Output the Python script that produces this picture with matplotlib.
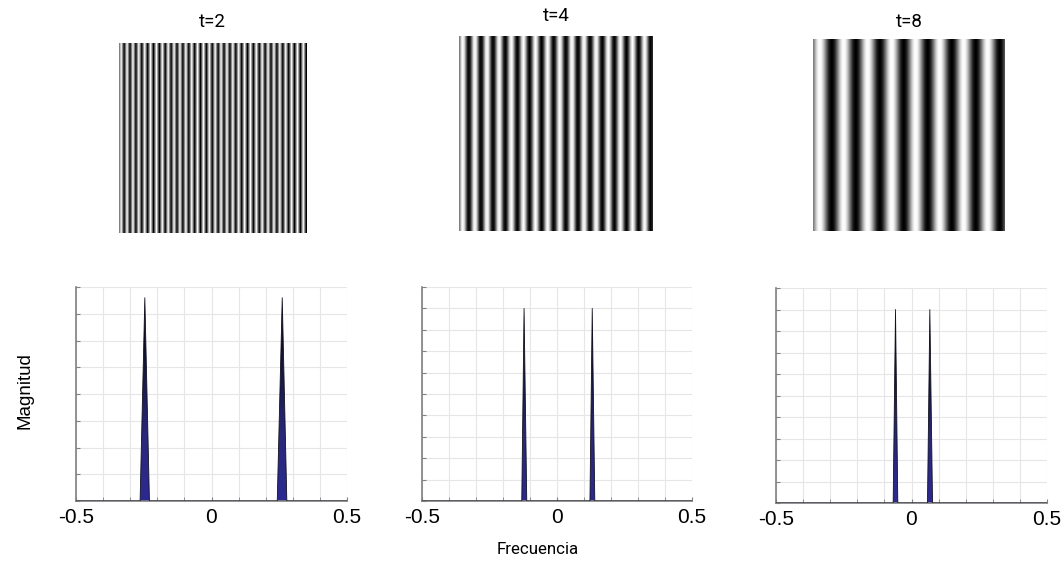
import numpy as np
import matplotlib
matplotlib.use("Agg")
import matplotlib.pyplot as plt
from matplotlib.colors import LinearSegmentedColormap

plt.rcParams['font.family'] = ['Roboto', 'DejaVu Sans']

# Half-periods of the gratings
t_values = [2, 4, 8]
titles = ['t=2', 't=4', 't=8']
img_size = 128

# Magnitude spectra (normalised frequency, magnitude)
freq_t2 = [-0.5, -0.2635, -0.246, -0.229, 0.2426, 0.261, 0.278, 0.5]
mag_t2 = [0, 0, 0.95, 0, 0, 0.95, 0, 0]
freq_t4 = [-0.5, -0.1305, -0.122, -0.112, 0.122, 0.1305, 0.140, 0.5]
mag_t4 = [0, 0, 0.90, 0, 0, 0.90, 0, 0]
freq_t8 = [-0.5, -0.0677, -0.059, -0.0505, 0.059, 0.0677, 0.0776, 0.5]
mag_t8 = [0, 0, 0.90, 0, 0, 0.90, 0, 0]
spectra = [(freq_t2, mag_t2), (freq_t4, mag_t4), (freq_t8, mag_t8)]
y_divisions = [8, 10, 10]

W, H = 1063, 564
fig = plt.figure(figsize=(W / 100, H / 100), dpi=100)


def box(l, t, r, b):
    return [l / W, 1 - b / H, (r - l) / W, (b - t) / H]


img_boxes = [(119, 43, 306, 233), (459, 36, 653, 231), (813, 39, 1005, 231)]
title_y = [22, 16, 22]
spec_boxes = [(76, 287, 347, 501), (422, 287, 692, 501), (776, 288, 1047, 503)]

cmap = LinearSegmentedColormap.from_list('peak', ['#2c2a92', '#2a2878', '#15153a', '#000000'])

for i, t in enumerate(t_values):
    # grating image
    ax = fig.add_axes(box(*img_boxes[i]))
    x = np.arange(img_size)
    row = np.sin(2 * np.pi * x / (2 * t))
    img = np.tile(row, (img_size, 1))
    ax.imshow(img, cmap='gray', aspect='auto', interpolation='bilinear')
    ax.axis('off')
    l, tp, r, b = img_boxes[i]
    fig.text((l + r) / 2 / W, 1 - title_y[i] / H, titles[i], ha='center', va='center', fontsize=13.5)

    # spectrum
    ax = fig.add_axes(box(*spec_boxes[i]))
    f, m = spectra[i]
    poly = ax.fill(f, m, facecolor='none', edgecolor='none')[0]
    grad = np.linspace(0, 1, 256).reshape(-1, 1)
    im = ax.imshow(grad, cmap=cmap, origin='lower', aspect='auto',
                   extent=[-0.5, 0.5, 0, max(m)], zorder=2)
    im.set_clip_path(poly)
    ax.plot(f, m, color='#111122', linewidth=0.6, zorder=3)
    ax.set_xlim(-0.5, 0.5)
    ax.set_ylim(0, 1)
    ax.set_xticks([-0.5, 0, 0.5])
    ax.set_xticklabels(['-0.5', '0', '0.5'], family='Liberation Sans')
    ax.set_xticks(np.arange(-0.5, 0.51, 0.1), minor=True)
    ax.set_yticks(np.linspace(0, 1, y_divisions[i] + 1))
    ax.set_yticklabels([])
    ax.grid(True, which='both', color='#e6e6e6', linewidth=0.8)
    ax.set_axisbelow(True)
    for s in ['top', 'right']:
        ax.spines[s].set_visible(False)
    for s in ['left', 'bottom']:
        ax.spines[s].set_color('#808080')
        ax.spines[s].set_linewidth(1.2)
    ax.tick_params(axis='both', which='both', direction='in', length=3, color='#808080',
                   labelsize=15, pad=5)

fig.text(25 / W, 1 - 391 / H, 'Magnitud', rotation=90, ha='center', va='center',
         fontsize=13.5, family='Liberation Sans')
fig.text(538 / W, 1 - 550 / H, 'Frecuencia', ha='center', va='center', fontsize=12.2)

fig.savefig('out.png', dpi=100)
